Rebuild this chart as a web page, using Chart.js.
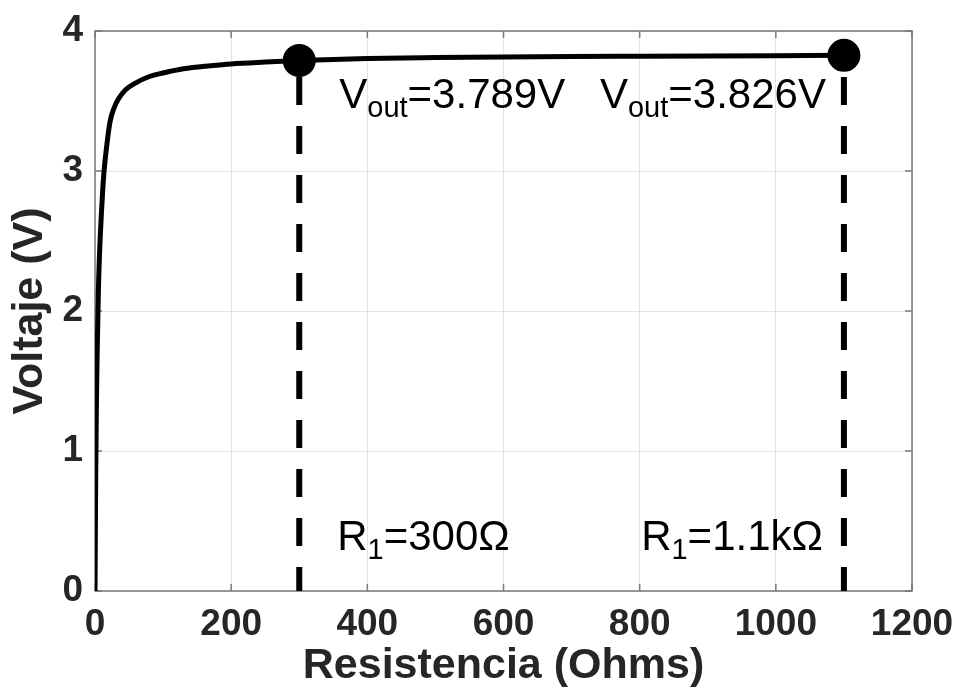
<!DOCTYPE html>
<html>
<head>
<meta charset="utf-8">
<script src="https://cdn.jsdelivr.net/npm/chart.js@4/dist/chart.umd.min.js"></script>
<style>
  html, body { margin: 0; padding: 0; background: #fff; }
  #wrap { width: 958px; height: 695px; }
</style>
</head>
<body>
<div id="wrap"><canvas id="divisor"></canvas></div>
<script>
// divider output vs. load resistance
const resistance = [0, 1, 2, 3, 4, 5, 7, 10, 13, 17, 22, 28, 35, 45, 60, 80, 100, 130, 170, 200, 250, 300, 400, 500, 600, 700, 800, 900, 1000, 1100];
const voltage = [0, 0.8, 1.3, 1.65, 1.9, 2.15, 2.45, 2.75, 2.98, 3.17, 3.35, 3.45, 3.52, 3.58, 3.63, 3.675, 3.70, 3.73, 3.752, 3.765, 3.778, 3.789, 3.803, 3.81, 3.815, 3.818, 3.82, 3.822, 3.824, 3.826];

// highlighted operating points
const markerR = [300, 1100];
const markerV = [3.789, 3.826];
const vText = ['=3.789V', '=3.826V'];
const rText = ['=300Ω', '=1.1kΩ'];

const xTicks = [0, 200, 400, 600, 800, 1000, 1200];
const yTicks = [0, 1, 2, 3, 4];

const FONT = '"Liberation Sans", Arial, sans-serif';
const AXIS_GRAY = '#7a7a7a';
const TEXT_DARK = '#262626';

const curve = resistance.map((r, i) => ({ x: r, y: voltage[i] }));

const markerSets = markerR.map((r, i) => ({
  data: [{ x: r, y: 0 }, { x: r, y: markerV[i] }],
  borderColor: '#000',
  backgroundColor: '#000',
  borderWidth: 6,
  borderDash: [28, 21],
  borderDashOffset: 4,
  pointRadius: ctx => (ctx.dataIndex === 1 ? 13.5 : 0),
  pointHoverRadius: 0,
  pointStyle: 'circle',
  order: 0,
}));

// text with a subscript part, e.g. V_out
function drawRich(ctx, parts, x, y, align) {
  const big = `42px ${FONT}`;
  const small = `29px ${FONT}`;
  let width = 0;
  parts.forEach(p => {
    ctx.font = p.sub ? small : big;
    p.w = ctx.measureText(p.t).width;
    width += p.w;
  });
  let cx = align === 'right' ? x - width : x;
  parts.forEach(p => {
    ctx.font = p.sub ? small : big;
    ctx.fillText(p.t, cx, p.sub ? y + 9 : y);
    cx += p.w;
  });
}

const matlabAxes = {
  id: 'matlabAxes',
  beforeDatasetsDraw(chart) {
    const { ctx, chartArea: a, scales: { x, y } } = chart;
    ctx.save();
    ctx.strokeStyle = AXIS_GRAY;
    ctx.lineWidth = 1.5;
    ctx.strokeRect(a.left, a.top, a.right - a.left, a.bottom - a.top);
    ctx.beginPath();
    xTicks.forEach(v => {
      const px = x.getPixelForValue(v);
      ctx.moveTo(px, a.bottom); ctx.lineTo(px, a.bottom - 7);
      ctx.moveTo(px, a.top); ctx.lineTo(px, a.top + 7);
    });
    yTicks.forEach(v => {
      const py = y.getPixelForValue(v);
      ctx.moveTo(a.left, py); ctx.lineTo(a.left + 7, py);
      ctx.moveTo(a.right, py); ctx.lineTo(a.right - 7, py);
    });
    ctx.stroke();
    ctx.restore();
  },
  afterDatasetsDraw(chart) {
    const { ctx, scales: { x, y } } = chart;
    ctx.save();
    ctx.fillStyle = '#000';
    ctx.textBaseline = 'alphabetic';
    markerR.forEach((r, i) => {
      const px = x.getPixelForValue(r);
      const right = i === markerR.length - 1;
      const vy = y.getPixelForValue(3.45);
      const ry = y.getPixelForValue(0.29);
      drawRich(ctx, [{ t: 'V' }, { t: 'out', sub: true }, { t: vText[i] }],
        right ? px - 18 : px + 40, vy, right ? 'right' : 'left');
      drawRich(ctx, [{ t: 'R' }, { t: '1', sub: true }, { t: rText[i] }],
        right ? px - 21 : px + 38, ry, right ? 'right' : 'left');
    });
    ctx.restore();
  },
};

new Chart('divisor', {
  type: 'line',
  data: {
    datasets: [
      {
        data: curve,
        borderColor: '#000',
        borderWidth: 5,
        pointRadius: 0,
        cubicInterpolationMode: 'monotone',
        order: 1,
      },
      ...markerSets,
    ],
  },
  options: {
    responsive: true,
    maintainAspectRatio: false,
    animation: false,
    events: [],
    layout: { padding: { top: 31, right: 46, left: 0, bottom: 0 } },
    plugins: { legend: { display: false }, tooltip: { enabled: false } },
    scales: {
      x: {
        type: 'linear',
        min: 0,
        max: 1200,
        afterBuildTicks: s => { s.ticks = xTicks.map(v => ({ value: v })); },
        afterFit: s => { s.height = 104; s.paddingLeft = 0; s.paddingRight = 0; },
        border: { display: false },
        grid: { color: '#e3e3e3', lineWidth: 1, drawTicks: false },
        ticks: {
          color: TEXT_DARK,
          font: { family: FONT, size: 37, weight: 'bold' },
          padding: 12,
          maxRotation: 0,
          callback: v => String(v),
        },
        title: {
          display: true,
          text: 'Resistencia (Ohms)',
          color: TEXT_DARK,
          font: { family: FONT, size: 43, weight: 'bold' },
          padding: { top: 0, bottom: 3 },
        },
      },
      y: {
        type: 'linear',
        min: 0,
        max: 4,
        afterBuildTicks: s => { s.ticks = yTicks.map(v => ({ value: v })); },
        afterFit: s => { s.width = 95; s.paddingTop = 0; s.paddingBottom = 0; },
        border: { display: false },
        grid: { color: '#e3e3e3', lineWidth: 1, drawTicks: false },
        ticks: {
          color: TEXT_DARK,
          font: { family: FONT, size: 37, weight: 'bold' },
          padding: 12,
          callback: v => String(v),
        },
        title: {
          display: true,
          text: 'Voltaje (V)',
          color: TEXT_DARK,
          font: { family: FONT, size: 43, weight: 'bold' },
          padding: { top: 4, bottom: 0 },
        },
      },
    },
  },
  plugins: [matlabAxes],
});
</script>
</body>
</html>
